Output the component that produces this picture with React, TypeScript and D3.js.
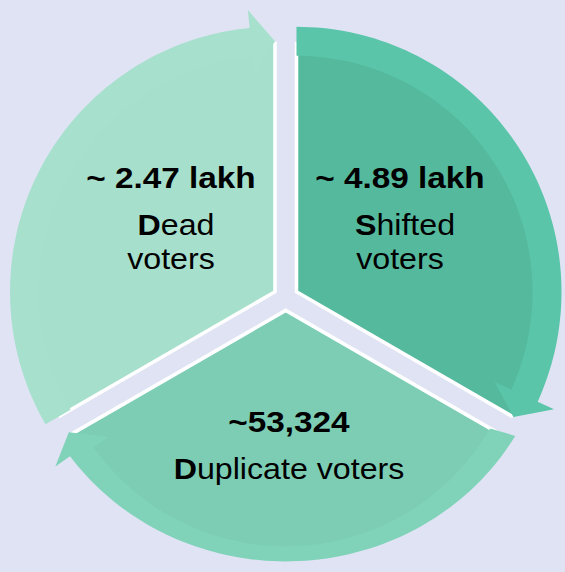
import React from "react";
import * as d3 from "d3";

// ---- data ----
const categories = ["Dead voters", "Shifted voters", "Duplicate voters"];
const valueLabels = ["~ 2.47 lakh", "~ 4.89 lakh", "~53,324"];
// label lines: [bold initial, rest] per line
const labelLines: string[][][] = [
  [["D", "ead"], ["", "voters"]],
  [["S", "hifted"], ["", "voters"]],
  [["D", "uplicate voters"]],
];
const weights = [1, 1, 1]; // three equal segments

// ---- styles / layout ----
const W = 565;
const H = 572;
const BG = "#dfe3f4";
const bodyColors = ["#a6dfcc", "#55b99e", "#7ccdb4"];
const ringColors = ["#a7e0cd", "#5ac5a8", "#80d3b9"];
const center = { x: 285.75, y: 298 };
const explode = 12.4;
const bodyR = [250, 250, 247];
const ringIn = 236;
const ringOutX = [265, 265, 265];
const ringOutY = [265, 265, 251];
const headDeg = 5.5;
const wing = 18;
const textLayout = [
  { value: [171, 188], lines: [[176, 235], [171, 269]] },
  { value: [400, 188], lines: [[405, 235], [400, 269]] },
  { value: [289, 432], lines: [[289, 479]] },
];
const FONT = "'Liberation Sans', Arial, Helvetica, sans-serif";
const SX = 1.11;

const pie = d3
  .pie<number>()
  .sort(null)
  .startAngle(-(2 * Math.PI) / 3)
  .endAngle((4 * Math.PI) / 3);

function pt(rx: number, ry: number, a: number): [number, number] {
  return [rx * Math.sin(a), -ry * Math.cos(a)];
}

function ringPath(a0: number, a1: number, i: number): string {
  const head = (headDeg * Math.PI) / 180;
  const ah = a1 - head;
  const steps = d3.range(0, 1.0001, 1 / 80);
  const pts: [number, number][] = [];
  steps.forEach((t) => pts.push(pt(ringOutX[i], ringOutY[i], a0 + (ah - a0) * t)));
  pts.push(pt(ringOutX[i] + wing, ringOutY[i] + wing, ah));
  pts.push(pt((ringIn + ringOutX[i]) / 2, (ringIn + ringOutY[i]) / 2, a1));
  pts.push(pt(ringIn - wing, ringIn - wing, ah));
  steps.forEach((t) => pts.push(pt(ringIn, ringIn, ah - (ah - a0) * t)));
  return (d3.line()(pts) || "") + "Z";
}

export default function App() {
  const arcs = pie(weights);
  const bodyArc = d3.arc<d3.PieArcDatum<number>>().innerRadius(0);

  return (
    <svg
      width={W}
      height={H}
      viewBox={`0 0 ${W} ${H}`}
      style={{ position: "absolute", left: 0, top: 0, display: "block" }}
    >
      <rect x={0} y={0} width={W} height={H} fill={BG} />
      {arcs.map((a, i) => {
        const mid = (a.startAngle + a.endAngle) / 2;
        const ox = center.x + explode * Math.sin(mid);
        const oy = center.y - explode * Math.cos(mid);
        const d = bodyArc.outerRadius(bodyR[i])(a) || "";
        const e0 = pt(bodyR[i], bodyR[i], a.startAngle);
        const e1 = pt(bodyR[i], bodyR[i], a.endAngle);
        return (
          <g key={categories[i]} transform={`translate(${ox},${oy})`}>
            <path d={d} fill={bodyColors[i]} />
            <polyline
              points={`${e0[0]},${e0[1]} 0,0 ${e1[0]},${e1[1]}`}
              fill="none"
              stroke="#ffffff"
              strokeWidth={3.6}
              strokeLinejoin="miter"
            />
            <path d={ringPath(a.startAngle, a.endAngle, i)} fill={ringColors[i]} />
          </g>
        );
      })}
      {arcs.map((a, i) => {
        const L = textLayout[i];
        return (
          <g key={"t" + i} fontFamily={FONT} fill="#000">
            <text
              transform={`translate(${L.value[0]},${L.value[1]}) scale(${SX},1)`}
              textAnchor="middle"
              fontSize={30}
              fontWeight="bold"
            >
              {valueLabels[i]}
            </text>
            {labelLines[i].map((ln, j) => (
              <text
                key={j}
                transform={`translate(${L.lines[j][0]},${L.lines[j][1]}) scale(${SX},1)`}
                textAnchor="middle"
                fontSize={29}
              >
                {ln[0] ? <tspan fontWeight="bold">{ln[0]}</tspan> : null}
                <tspan>{ln[1]}</tspan>
              </text>
            ))}
          </g>
        );
      })}
    </svg>
  );
}
